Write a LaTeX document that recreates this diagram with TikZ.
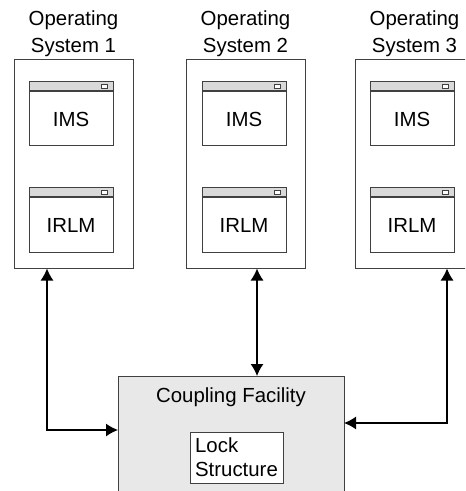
\documentclass[tikz,border=0pt]{standalone}
\usepackage{fontspec}
\setmainfont{Liberation Sans}
\usepackage{tikz}
\usetikzlibrary{arrows.meta,positioning}

\colorlet{barfill}{gray!30}
\colorlet{cffill}{gray!18}

\tikzset{
  osbox/.style={draw=black!75, line width=0.5pt, minimum width=59.5pt, minimum height=104pt, inner sep=0pt},
  winbody/.style={draw=black!75, fill=white, line width=0.5pt, minimum width=42pt, minimum height=27pt, inner sep=0pt},
  winbar/.style={draw=black!75, fill=barfill, line width=0.5pt, minimum width=42pt, minimum height=4.5pt, inner sep=0pt},
  conn/.style={line width=0.6pt, {Latex[length=6pt,width=6.5pt]}-{Latex[length=6pt,width=6.5pt]}},
}

\begin{document}
\begin{tikzpicture}[x=0.5pt, y=-0.5pt, every node/.style={font=\fontsize{10.2}{13.5}\selectfont}]
      \useasboundingbox (0,0) rectangle (465,491);
      \clip (0,0) rectangle (465,491);
      % operating systems, each with an IMS and an IRLM window
      \foreach \i/\x/\wx in {1/73.5/71, 2/245.5/244, 3/414.5/412} {
        \node[osbox] (os\i) at (\x,164) {};
        \node[align=center] (oslabel\i) at (\x,34) {Operating\\System \i};
        \node[winbody] (ims\i) at (\wx,119) {IMS};
        \node[winbar, above=0pt of ims\i] (imsbar\i) {};
        \node[winbody] (irlm\i) at (\wx,225) {IRLM};
        \node[winbar, above=0pt of irlm\i] (irlmbar\i) {};
        \draw[black!75, fill=white, line width=0.4pt] ([xshift=-4.5pt]imsbar\i.east) ++(-3,-2) rectangle ++(6,4);
        \draw[black!75, fill=white, line width=0.4pt] ([xshift=-4.5pt]irlmbar\i.east) ++(-3,-2) rectangle ++(6,4);
      }
      % coupling facility
      \draw[black!75, fill=cffill, line width=0.5pt] (118,376) rectangle (344,520);
      \node[inner sep=0pt] (cflabel) at (231,397) {Coupling Facility};
      \node[draw=black!75, fill=white, line width=0.5pt, minimum width=46.5pt, minimum height=25.5pt,
            align=left, inner sep=0pt, font=\fontsize{10.2}{12}\selectfont] (lock) at (236.5,457.5) {Lock\\Structure};
      \coordinate (cfwest) at (118,430);
      \coordinate (cfeast) at (344,423);
      \coordinate (cfnorth) at (257,376);
      % links
      \draw[conn] (os1.south -| 47,0) |- (cfwest);
      \draw[conn] (os2.south -| cfnorth) -- (cfnorth);
      \draw[conn] (os3.south -| 447,0) |- (cfeast);
    \end{tikzpicture}
\end{document}
